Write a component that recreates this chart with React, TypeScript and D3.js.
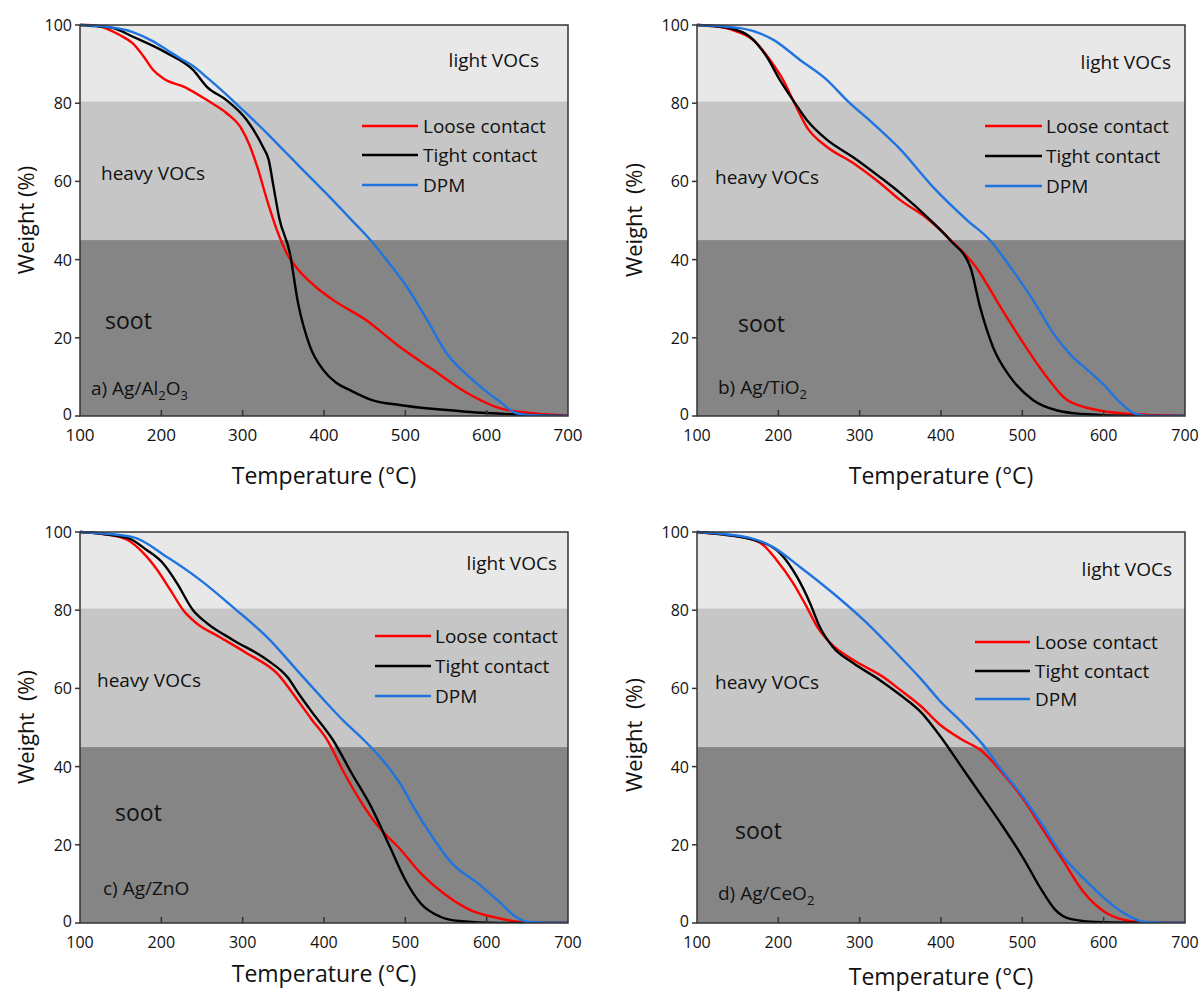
import React from 'react';
import * as d3 from 'd3';

// temperature (°C) / weight (%) pairs
const aLoose = [[100,100],[110,100],[125,99.6],[150,97.3],[165,95.3],[178,92],[190,88.5],[202,86.4],[230,84],[256,80.8],[280,77.5],[297,74],[309,69],[318,63.7],[330,55.2],[342,47.6],[354,41.7],[370,37],[390,33],[411,29.7],[452,24.5],[493,17.7],[534,11.8],[576,5.9],[616,2],[657,0.7],[700,0.1]];
const aTight = [[100,100],[120,99.7],[141,99.2],[165,97],[207,92.8],[239,88.5],[256,84.2],[280,80.8],[305,75.7],[325,68.8],[332,65.5],[338,58.6],[345,50.6],[358,41.7],[368,29],[383,17.7],[399,11.8],[415,8.5],[432,6.6],[460,4],[493,2.8],[576,1.1],[637,0.4],[700,0]];
const aDpm = [[100,100],[130,99.6],[165,98.2],[190,95.8],[207,93.6],[223,91.5],[239,89.5],[256,86.6],[280,82.2],[300,78.3],[330,72.3],[354,67.2],[370,63.8],[400,57.5],[434,50.1],[457,45],[477,39.9],[502,33],[527,24.5],[551,16],[583,9.2],[616,3.7],[637,0.7],[657,0.2],[700,0]];

const bLoose = [[100,100],[120,99.7],[144,98.7],[169,96.2],[190,91],[206,85.9],[218,80.8],[235,73.9],[260,68.8],[292,64.7],[325,59.6],[350,55.2],[383,50.5],[411,45.2],[444,37.8],[473,27.9],[501,18.7],[530,10],[555,4.1],[595,1.4],[636,0.5],[700,0]];
const bTight = [[100,100],[120,99.7],[144,99],[165,97],[186,91.8],[202,85.9],[218,80.8],[235,75.7],[260,70.6],[292,66.2],[325,61.1],[350,57],[386,50.3],[411,45],[436,38.1],[448,27.9],[464,17.6],[485,10],[513,4.1],[543,1.4],[575,0.5],[636,0],[700,0]];
const bDpm = [[100,100],[153,99.2],[194,96.2],[227,91],[260,85.9],[284,80.8],[316,74.9],[350,68.2],[390,58.6],[432,50.1],[460,45],[488,37.3],[513,29.7],[538,21.2],[560,15.5],[580,11.8],[600,8],[620,3.5],[640,0.5],[660,0],[700,0]];

const cLoose = [[100,100],[137,99.2],[158,98],[178,94.6],[195,90.3],[211,85.2],[227,80],[243,76.7],[272,73.1],[305,69],[342,63.9],[370,56.3],[385,52],[404,46.8],[425,38.3],[444,31.5],[467,24.6],[491,19.5],[519,12.7],[547,7.6],[580,3.3],[613,1.3],[641,0.3],[700,0]];
const cTight = [[100,100],[158,98.5],[182,95.4],[202,92],[219,87],[239,80],[256,76.7],[288,72.4],[330,67.3],[355,62.9],[370,58.3],[385,54],[411,46.8],[434,38.3],[458,29.7],[481,19.5],[500,11],[519,5],[543,1.6],[566,0.5],[613,0],[700,0]];
const cDpm = [[100,100],[165,98.7],[207,93.6],[248,87.7],[288,80.8],[330,73.1],[370,63.9],[400,57],[425,51.5],[449,46.8],[472,41.7],[496,34.9],[510,29.7],[533,22.1],[557,15.3],[589,10.2],[613,5.9],[636,1.6],[650,0.3],[700,0]];

const dLoose = [[100,100],[110,99.8],[153,98.8],[178,97.2],[198,92.8],[218,87],[235,80.8],[248,75.7],[264,71.6],[292,67.3],[329,62.9],[350,59.6],[375,55.5],[400,50.5],[425,47],[450,44],[475,38.5],[500,32],[525,24],[550,16],[575,8],[600,3],[625,0.8],[650,0.2],[700,0]];
const dTight = [[100,100],[110,99.8],[178,97.5],[202,94.6],[223,88.5],[239,81.8],[251,75.7],[267,70.6],[292,66.5],[325,62.1],[350,58.3],[375,54],[400,47.5],[425,40],[450,32.5],[475,25],[500,17],[525,8],[540,3.5],[560,1],[600,0.2],[700,0]];
const dDpm = [[100,100],[165,98.5],[193,96.2],[227,91],[267,84.4],[309,76.7],[350,68],[375,62.5],[400,56.5],[425,51.5],[450,46],[475,39],[500,32.5],[525,25],[550,17],[575,11.5],[600,6.5],[625,2.5],[650,0.3],[700,0]];

const seriesNames = ['Loose contact', 'Tight contact', 'DPM'];
const seriesColors = ['#ff0000', '#000000', '#1f74e0'];
const xTicks = [100, 200, 300, 400, 500, 600, 700];
const yTicks = [0, 20, 40, 60, 80, 100];
// weight band limits: soot / heavy VOCs / light VOCs
const bands = [[0, 45, '#858585'], [45, 80.5, '#c6c6c6'], [80.5, 100, '#e8e8e8']];

const FONT = '"Open Sans", sans-serif';
const W = 488;
const H = 391;

const panels = [
  {
    left: 80, top: 25, series: [aLoose, aTight, aDpm],
    label: ['a) Ag/Al', '2', 'O', '3'],
    light: [459, 35], heavy: [21, 148], soot: [25, 295], tag: [11, 370],
    legend: [282, 338, 343, [101, 130, 160]],
    yTitle: 'Weight (%)', yTitlePos: [25, 220], xTitlePos: [324, 484], xTickSize: 17,
  },
  {
    left: 697, top: 25, series: [bLoose, bTight, bDpm],
    label: ['b) Ag/TiO', '2'],
    light: [474, 37], heavy: [18, 152], soot: [41, 298], tag: [21, 369],
    legend: [288, 345, 349, [101, 131, 161]],
    yTitle: 'Weight  (%)', yTitlePos: [633, 220], xTitlePos: [941, 484], xTickSize: 16,
  },
  {
    left: 80, top: 532, series: [cLoose, cTight, cDpm],
    label: ['c) Ag/ZnO'],
    light: [477, 31], heavy: [17, 148], soot: [35, 280], tag: [23, 363],
    legend: [295, 351, 355, [104, 134, 164]],
    yTitle: 'Weight  (%)', yTitlePos: [25, 727], xTitlePos: [324, 982], xTickSize: 16,
  },
  {
    left: 697, top: 532, series: [dLoose, dTight, dDpm],
    label: ['d) Ag/CeO', '2'],
    light: [475, 37], heavy: [18, 150], soot: [38, 298], tag: [21, 368],
    legend: [278, 333, 338, [110, 139, 167]],
    yTitle: 'Weight  (%)', yTitlePos: [633, 735], xTitlePos: [941, 985], xTickSize: 16,
  },
];

const x = d3.scaleLinear().domain([100, 700]).range([0, W]);
const y = d3.scaleLinear().domain([0, 100]).range([H, 0]);
const line = d3.line<number[]>().x(d => x(d[0])).y(d => y(d[1])).curve(d3.curveMonotoneX);

function Panel({ p }: { p: any }) {
  const clipId = `clip${p.left}_${p.top}`;
  return (
    <g>
      <g transform={`translate(${p.left},${p.top})`}>
        {bands.map((b: any, i) => (
          <rect key={i} x={0} y={y(b[1])} width={W} height={y(b[0]) - y(b[1])} fill={b[2]} />
        ))}
        <text x={p.light[0]} y={p.light[1]} textAnchor="end" dominantBaseline="central" fontSize={19} fill="#111">light VOCs</text>
        <text x={p.heavy[0]} y={p.heavy[1]} dominantBaseline="central" fontSize={19} fill="#111">heavy VOCs</text>
        <text x={p.soot[0]} y={p.soot[1]} dominantBaseline="central" fontSize={23} fill="#111">soot</text>
        <text x={p.tag[0]} y={p.tag[1]} fontSize={19} fill="#111">
          {p.label.map((t: string, i: number) =>
            i % 2 === 1
              ? <tspan key={i} fontSize={13} dy={5}>{t}</tspan>
              : <tspan key={i} dy={i === 0 ? 0 : -5}>{t}</tspan>
          )}
        </text>
        <defs>
          <clipPath id={clipId}>
            <rect x={0} y={-2} width={W} height={H + 2} />
          </clipPath>
        </defs>
        <g clipPath={`url(#${clipId})`}>
          {p.series.map((s: number[][], i: number) => (
            <path key={i} d={line(s) || ''} fill="none" stroke={seriesColors[i]} strokeWidth={2.4} strokeLinejoin="round" />
          ))}
        </g>
        {seriesNames.map((n, i) => (
          <g key={n}>
            <line x1={p.legend[0]} x2={p.legend[1]} y1={p.legend[3][i]} y2={p.legend[3][i]} stroke={seriesColors[i]} strokeWidth={2.4} />
            <text x={p.legend[2]} y={p.legend[3][i]} dominantBaseline="central" fontSize={19} fill="#111">{n}</text>
          </g>
        ))}
        <rect x={0} y={0} width={W} height={H} fill="none" stroke="#333" strokeWidth={1.5} />
        {yTicks.map(t => (
          <g key={t}>
            <line x1={-5} x2={0} y1={y(t)} y2={y(t)} stroke="#333" strokeWidth={1.5} />
            <text x={-8} y={y(t) - (t === 0 ? 2 : 0)} textAnchor="end" dominantBaseline="central" fontSize={16} fill="#111">{t}</text>
          </g>
        ))}
        {xTicks.map(t => (
          <g key={t}>
            {t > 100 && t < 700 && <line x1={x(t)} x2={x(t)} y1={H} y2={H - 6} stroke="#333" strokeWidth={1.5} />}
            <text x={x(t)} y={H + 25} textAnchor="middle" fontSize={p.xTickSize} fill="#111">{t}</text>
          </g>
        ))}
      </g>
      <text
        transform={`translate(${p.yTitlePos[0]},${p.yTitlePos[1]}) rotate(-90)`}
        textAnchor="middle" dominantBaseline="central" fontSize={22} fill="#111"
        style={{ whiteSpace: 'pre' }}
      >{p.yTitle}</text>
      <text x={p.xTitlePos[0]} y={p.xTitlePos[1]} textAnchor="middle" fontSize={23} fill="#111">Temperature (°C)</text>
    </g>
  );
}

export default function App() {
  return (
    <svg width={1202} height={993} style={{ position: 'absolute', left: 0, top: 0, fontFamily: FONT, background: '#fff' }}>
      <rect width={1202} height={993} fill="#fff" />
      {panels.map((p, i) => <Panel key={i} p={p} />)}
    </svg>
  );
}
